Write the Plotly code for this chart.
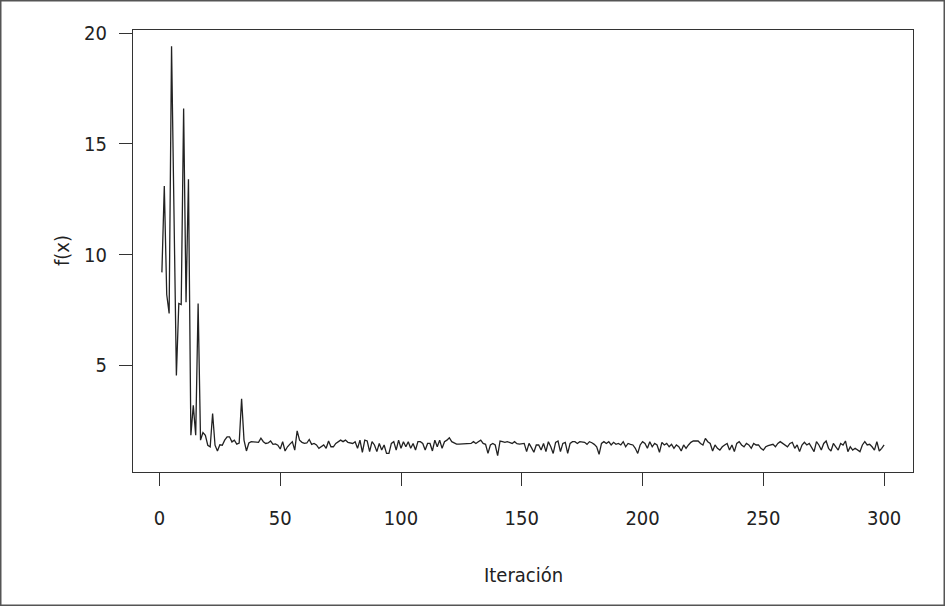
import plotly.graph_objects as go

# ---- data ----
iterations = list(range(1, 301))
fx = [
    9.2, 13.1, 8.2, 7.35, 19.4, 12.0, 4.55, 7.8, 7.75, 16.6,
    7.85, 13.4, 1.85, 3.2, 1.85, 7.8, 1.63, 1.97, 1.85, 1.4,
    1.33, 2.83, 1.4, 1.14, 1.42, 1.4, 1.63, 1.78, 1.78, 1.55,
    1.63, 1.45, 1.5, 3.5, 1.63, 1.14, 1.5, 1.56, 1.55, 1.54,
    1.53, 1.72, 1.56, 1.48, 1.5, 1.59, 1.44, 1.46, 1.4, 1.23,
    1.56, 1.14, 1.33, 1.45, 1.56, 1.18, 2.05, 1.63, 1.53, 1.48,
    1.5, 1.66, 1.44, 1.48, 1.41, 1.26, 1.33, 1.41, 1.26, 1.59,
    1.33, 1.33, 1.48, 1.56, 1.63, 1.56, 1.63, 1.53, 1.5, 1.48,
    1.56, 1.26, 1.63, 1.08, 1.63, 1.59, 1.11, 1.56, 1.41, 1.11,
    1.48, 1.18, 1.41, 1.03, 1.03, 1.48, 1.56, 1.18, 1.63, 1.26,
    1.56, 1.33, 1.56, 1.26, 1.48, 1.18, 1.56, 1.56, 1.48, 1.18,
    1.48, 1.48, 1.14, 1.63, 1.33, 1.63, 1.26, 1.56, 1.63, 1.74,
    1.56, 1.51, 1.45, 1.45, 1.45, 1.45, 1.45, 1.45, 1.48, 1.56,
    1.48, 1.56, 1.63, 1.48, 1.44, 1.03, 1.41, 1.48, 1.41, 0.93,
    1.59, 1.56, 1.53, 1.56, 1.51, 1.48, 1.56, 1.47, 1.45, 1.45,
    1.48, 1.11, 1.48, 1.29, 1.08, 1.41, 1.41, 1.18, 1.48, 1.11,
    1.56, 1.33, 1.03, 1.53, 1.59, 1.11, 1.48, 1.53, 1.03, 1.48,
    1.56, 1.56, 1.48, 1.56, 1.53, 1.53, 1.44, 1.56, 1.51, 1.44,
    1.33, 0.99, 1.48, 1.56, 1.48, 1.56, 1.41, 1.53, 1.44, 1.48,
    1.41, 1.56, 1.33, 1.48, 1.44, 1.41, 1.26, 1.03, 1.41, 1.56,
    1.48, 1.26, 1.56, 1.33, 1.48, 1.41, 1.08, 1.53, 1.41, 1.48,
    1.33, 1.44, 1.26, 1.41, 1.33, 1.14, 1.41, 1.26, 1.41, 1.53,
    1.59, 1.59, 1.59, 1.48, 1.41, 1.71, 1.56, 1.48, 1.14, 1.41,
    1.26, 1.18, 1.33, 1.41, 1.48, 1.18, 1.41, 1.11, 1.48, 1.56,
    1.41, 1.33, 1.48, 1.41, 1.26, 1.48, 1.41, 1.41, 1.26, 1.18,
    1.33, 1.38, 1.41, 1.44, 1.33, 1.48, 1.56, 1.48, 1.41, 1.33,
    1.48, 1.53, 1.26, 1.41, 1.11, 1.41, 1.53, 1.41, 1.48, 1.26,
    1.11, 1.56, 1.41, 1.18, 1.48, 1.59, 1.26, 1.14, 1.48, 1.33,
    1.18, 1.48, 1.41, 1.59, 1.11, 1.33, 1.18, 1.26, 1.18, 1.11,
    1.41, 1.56, 1.41, 1.44, 1.33, 1.18, 1.56, 1.14, 1.26, 1.41,
]
x_ticks = [0, 50, 100, 150, 200, 250, 300]
y_ticks = [5, 10, 15, 20]
x_title = "Iteración"
y_title = "f(x)"

# R-style 4% axis extension
xmin, xmax = min(iterations), max(iterations)
ymin, ymax = min(fx), max(fx)
xr = [xmin - 0.04 * (xmax - xmin), xmax + 0.04 * (xmax - xmin)]
yr = [ymin - 0.04 * (ymax - ymin), ymax + 0.04 * (ymax - ymin)]

W, H = 945, 606
L, R, T, B = 133, 32, 30, 134
pw, ph = W - L - R, H - T - B

font_family = "DejaVu Sans Condensed, Liberation Sans Narrow, sans-serif"
ink = "#222222"
fsize = 20

fig = go.Figure()
fig.add_trace(go.Scatter(
    x=iterations, y=fx, mode="lines",
    line=dict(color=ink, width=1.3),
    hoverinfo="skip", showlegend=False,
))

axis_common = dict(
    showgrid=False, zeroline=False,
    showline=True, mirror=True, linecolor="#333333", linewidth=1.3,
    ticks="outside", ticklen=13, tickwidth=1.2, tickcolor="#333333",
    tickfont=dict(family=font_family, size=fsize, color=ink),
)

fig.update_layout(
    width=W, height=H,
    margin=dict(l=L, r=R, t=T, b=B, autoexpand=False),
    paper_bgcolor="white", plot_bgcolor="white",
    xaxis=dict(range=xr, tickvals=x_ticks, ticklabelstandoff=15, **axis_common),
    yaxis=dict(range=yr, tickvals=y_ticks, ticklabelstandoff=8, **axis_common),
    annotations=[
        dict(text=x_title, xref="paper", yref="paper", x=0.5, y=(T + ph - 575) / ph,
             xanchor="center", yanchor="middle", showarrow=False,
             font=dict(family=font_family, size=fsize, color=ink)),
        dict(text=y_title, xref="paper", yref="paper", x=(62 - L) / pw, y=0.5,
             xanchor="center", yanchor="middle", showarrow=False, textangle=-90,
             font=dict(family=font_family, size=fsize, color=ink)),
    ],
    shapes=[
        dict(type="rect", xref="paper", yref="paper",
             x0=(0.75 - L) / pw, x1=(W - 0.75 - L) / pw,
             y0=(T + ph - (H - 0.75)) / ph, y1=(T + ph - 0.75) / ph,
             line=dict(color="#555555", width=1.5), fillcolor="rgba(0,0,0,0)"),
    ],
)

fig.write_html("out.html")
